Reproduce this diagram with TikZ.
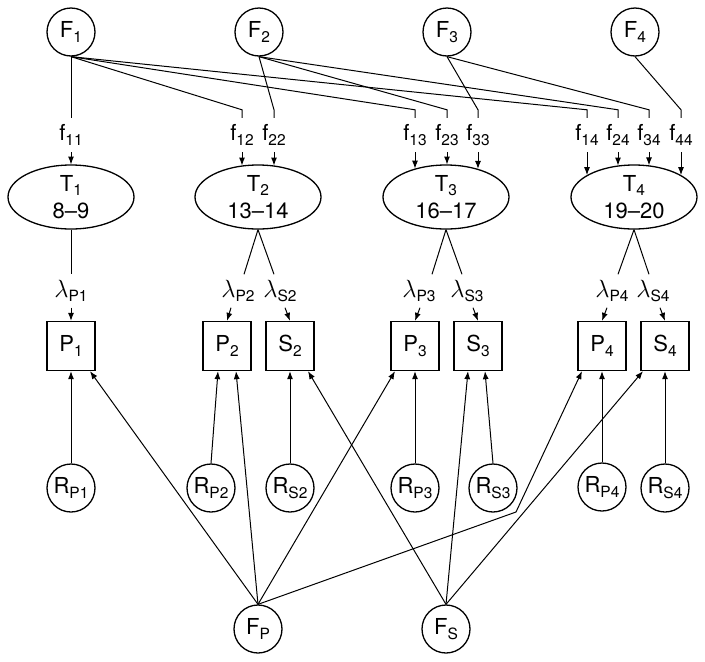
\documentclass[tikz,border=0pt]{standalone}
\usepackage{fontspec}
\setmainfont{TeX Gyre Heros}
\usetikzlibrary{arrows.meta,shapes.geometric,calc}
\newcommand\sbs[1]{\raisebox{-4.5pt}{\fontsize{15.5}{15.5}\selectfont #1}}
\newcommand\lam{{\fontsize{25}{25}\selectfont$\lambda$}}
\newcommand\ftoT[3]{\draw[arr] (#1.south) -- ($(#2.center)+(#3,{-32.5*sqrt(1-((#3)/63.5)^2)})$);}
\begin{document}
\begin{tikzpicture}[x=1pt,y=-1pt,
  font=\fontsize{22}{26}\selectfont,
  circ/.style={circle, draw, line width=1.3pt, minimum size=48pt, inner sep=0pt},
  box/.style={rectangle, draw, line width=1.3pt, minimum width=48pt, minimum height=49pt, inner sep=0pt},
  ell/.style={ellipse, draw, line width=1.3pt, minimum width=126pt, minimum height=64pt, inner sep=0pt, align=center, font=\fontsize{22}{27}\selectfont},
  flab/.style={inner sep=0pt, minimum height=34pt},
  llab/.style={inner sep=0pt, minimum height=33pt},
  conn/.style={line width=1pt},
  arr/.style={conn, -{Latex[length=8pt,width=6pt]}}]
\useasboundingbox[fill=white] (0,0) rectangle (705,662);

% top factors
\node[circ] (F1) at (71,32) {F\sbs{1}};
\node[circ] (F2) at (259,32) {F\sbs{2}};
\node[circ] (F3) at (447,32) {F\sbs{3}};
\node[circ] (F4) at (635,32) {F\sbs{4}};

% f labels
\node[flab] (f11) at (71,135) {f\sbs{11}};
\node[flab] (f12) at (242,135) {f\sbs{12}};
\node[flab] (f22) at (274,135) {f\sbs{22}};
\node[flab] (f13) at (415,135) {f\sbs{13}};
\node[flab] (f23) at (447,135) {f\sbs{23}};
\node[flab] (f33) at (478,135) {f\sbs{33}};
\node[flab] (f14) at (587,135) {f\sbs{14}};
\node[flab] (f24) at (618,135) {f\sbs{24}};
\node[flab] (f34) at (649,135) {f\sbs{34}};
\node[flab] (f44) at (681,135) {f\sbs{44}};

% ellipses
\node[ell] (T1) at (71,197) {T\sbs{1}\\8--9};
\node[ell] (T2) at (258,197) {T\sbs{2}\\13--14};
\node[ell] (T3) at (446,197) {T\sbs{3}\\16--17};
\node[ell] (T4) at (634,197) {T\sbs{4}\\19--20};

% lambda labels
\node[llab] (lP1) at (71,291) {\lam\sbs{P1}};
\node[llab] (lP2) at (238,291) {\lam\sbs{P2}};
\node[llab] (lS2) at (280,291) {\lam\sbs{S2}};
\node[llab] (lP3) at (419,291) {\lam\sbs{P3}};
\node[llab] (lS3) at (467,291) {\lam\sbs{S3}};
\node[llab] (lP4) at (612,291) {\lam\sbs{P4}};
\node[llab] (lS4) at (653,291) {\lam\sbs{S4}};

% boxes
\node[box] (P1) at (71,346) {P\sbs{1}};
\node[box] (P2) at (227,346) {P\sbs{2}};
\node[box] (S2) at (290,346) {S\sbs{2}};
\node[box] (P3) at (415,346) {P\sbs{3}};
\node[box] (S3) at (478,346) {S\sbs{3}};
\node[box] (P4) at (602,346) {P\sbs{4}};
\node[box] (S4) at (665,346) {S\sbs{4}};

% residuals
\node[circ] (RP1) at (71,488) {R\sbs{P1}};
\node[circ] (RP2) at (211,488) {R\sbs{P2}};
\node[circ] (RS2) at (290,488) {R\sbs{S2}};
\node[circ] (RP3) at (415,488) {R\sbs{P3}};
\node[circ] (RS3) at (493,488) {R\sbs{S3}};
\node[circ] (RP4) at (602,487) {R\sbs{P4}};
\node[circ] (RS4) at (665,488) {R\sbs{S4}};

% method factors
\node[circ] (FP) at (258,629) {F\sbs{P}};
\node[circ] (FS) at (446,629) {F\sbs{S}};
\coordinate (bend) at (516,512);

% F -> f lines
\draw[conn] (F1.south) -- (f11.north);
\foreach \t in {f12,f13,f14}{\draw[conn] (F1.south) -- ([yshift=8pt]\t.north) -- (\t.north);}
\foreach \t in {f22,f23,f24}{\draw[conn] (F2.south) -- ([yshift=8pt]\t.north) -- (\t.north);}
\foreach \t in {f33,f34}{\draw[conn] (F3.south) -- ([yshift=8pt]\t.north) -- (\t.north);}
\draw[conn] (F4.south) -- ([yshift=8pt]f44.north) -- (f44.north);

% f -> T arrows
\ftoT{f11}{T1}{0}
\ftoT{f12}{T2}{-16}
\ftoT{f22}{T2}{16}
\ftoT{f13}{T3}{-31}
\ftoT{f23}{T3}{1}
\ftoT{f33}{T3}{32}
\ftoT{f14}{T4}{-47}
\ftoT{f24}{T4}{-16}
\ftoT{f34}{T4}{15}
\ftoT{f44}{T4}{47}

% T -> lambda lines
\draw[conn] (T1.south) -- (lP1.north);
\draw[conn] (T2.south) -- ([xshift=6pt]lP2.north);
\draw[conn] (T2.south) -- ([xshift=-6pt]lS2.north);
\draw[conn] (T3.south) -- ([xshift=13pt]lP3.north);
\draw[conn] (T3.south) -- ([xshift=-5pt]lS3.north);
\draw[conn] (T4.south) -- ([xshift=6pt]lP4.north);
\draw[conn] (T4.south) -- ([xshift=-4pt]lS4.north);

% lambda -> boxes
\draw[arr] (lP1.south) -- (P1.north);
\draw[arr] ([xshift=-7pt]lP2.south) -- (P2.north);
\draw[arr] ([xshift=5pt]lS2.south) -- (S2.north);
\draw[arr] ([xshift=1pt]lP3.south) -- (P3.north);
\draw[arr] ([xshift=6pt]lS3.south) -- (S3.north);
\draw[arr] ([xshift=-5pt]lP4.south) -- (P4.north);
\draw[arr] ([xshift=7pt]lS4.south) -- (S4.north);

% residual arrows
\draw[arr] (RP1.north) -- (P1.south);
\draw[arr] (RP2.north) -- ([xshift=-9pt]P2.south);
\draw[arr] (RS2.north) -- (S2.south);
\draw[arr] (RP3.north) -- (P3.south);
\draw[arr] (RS3.north) -- ([xshift=7pt]S3.south);
\draw[arr] (RP4.north) -- (P4.south);
\draw[arr] (RS4.north) -- (S4.south);

% method factor arrows
\draw[arr] (FP.north) -- ([xshift=19pt]P1.south);
\draw[arr] (FP.north) -- ([xshift=9pt]P2.south);
\draw[arr] (FP.north) -- ([xshift=-20pt]P3.south);
\draw[arr] (FP.north) -- (bend) -- ([xshift=-20pt]P4.south);
\draw[arr] (FS.north) -- ([xshift=18pt]S2.south);
\draw[arr] (FS.north) -- ([xshift=-10pt]S3.south);
\draw[arr] (FS.north) -- ([xshift=-22pt]S4.south);
\end{tikzpicture}
\end{document}
